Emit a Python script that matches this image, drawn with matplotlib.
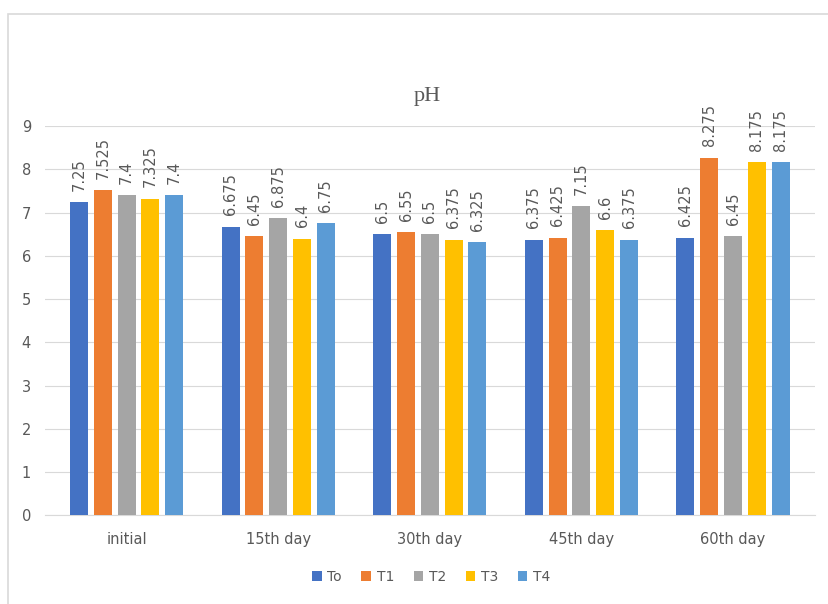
import matplotlib.pyplot as plt
import numpy as np

categories = ['initial', '15th day', '30th day', '45th day', '60th day']
series_names = ['To', 'T1', 'T2', 'T3', 'T4']
to_vals = [7.25, 6.675, 6.5, 6.375, 6.425]
t1_vals = [7.525, 6.45, 6.55, 6.425, 8.275]
t2_vals = [7.4, 6.875, 6.5, 7.15, 6.45]
t3_vals = [7.325, 6.4, 6.375, 6.6, 8.175]
t4_vals = [7.4, 6.75, 6.325, 6.375, 8.175]
colors = ['#4472C4', '#ED7D31', '#A5A5A5', '#FFC000', '#5B9BD5']

all_vals = [to_vals, t1_vals, t2_vals, t3_vals, t4_vals]

fig = plt.figure(figsize=(8.29, 6.04), dpi=100)
ax = fig.add_axes([0.054, 0.147, 0.929, 0.644])

# chart border (runs off the right and bottom edges)
fig.patches.append(plt.Rectangle((8 / 829, -0.05), 1.0, 0.05 + 1 - 14 / 604,
                                 transform=fig.transFigure, fill=False,
                                 edgecolor='#D9D9D9', linewidth=1.2))

x = np.arange(len(categories))
w = 0.118
step = 0.157
for i, (name, vals) in enumerate(zip(series_names, all_vals)):
    pos = x + (i - 2) * step
    ax.bar(pos, vals, width=w, color=colors[i], label=name, zorder=3)
    for p, v in zip(pos, vals):
        ax.text(p, v + 0.26, f'{v:g}', rotation=90, ha='center', va='bottom',
                fontsize=10.5, color='#595959')

ax.set_ylim(0, 9)
ax.set_xlim(-0.54, 4.54)
ax.set_yticks(range(0, 10))
ax.set_xticks(x)
ax.set_xticklabels(categories)
ax.tick_params(axis='both', length=0, colors='#595959', labelsize=10.5)
ax.tick_params(axis='y', pad=10)
ax.tick_params(axis='x', pad=12)
ax.grid(axis='y', color='#D9D9D9', linewidth=0.8, zorder=0)
for s in ['top', 'right', 'left']:
    ax.spines[s].set_visible(False)
ax.spines['bottom'].set_color('#D9D9D9')

fig.text(0.515, 0.84, 'pH', ha='center', va='center', fontsize=16,
         family='Liberation Serif', color='#595959')

fig.legend(loc='center', bbox_to_anchor=(0.52, 0.045), ncol=5, frameon=False,
           fontsize=10, handlelength=0.7, handleheight=0.7, columnspacing=1.4,
           handletextpad=0.4, labelcolor='#595959')

fig.savefig('out.png', dpi=100)
